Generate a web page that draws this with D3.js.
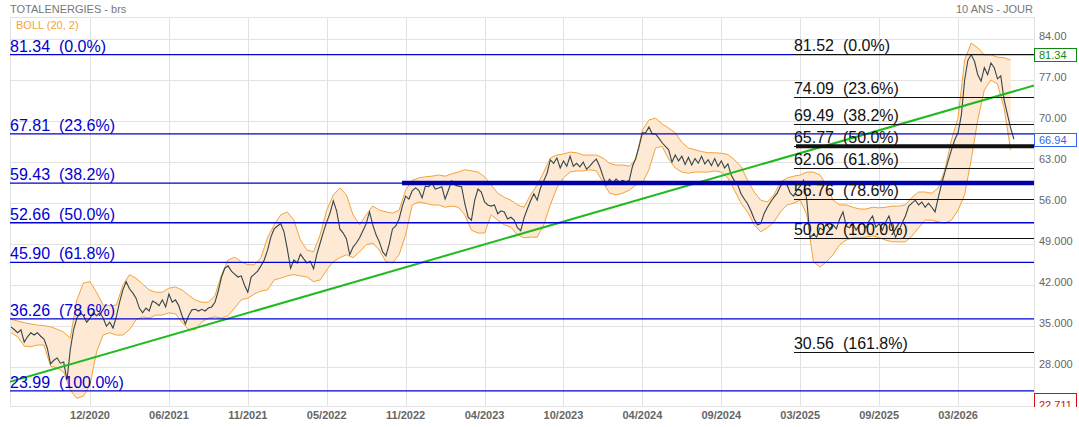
<!DOCTYPE html>
<html><head><meta charset="utf-8">
<script src="https://cdn.jsdelivr.net/npm/d3@7"></script>
<style>
html,body{margin:0;padding:0;background:#fff;}
svg{display:block;font-family:"Liberation Sans",Arial,sans-serif;}
</style></head><body>
<svg id="chart" width="1079" height="427"></svg>
<script>
// ---------- DATA ----------
const chartTitle = "TOTALENERGIES - brs";
const periodLabel = "10 ANS - JOUR";
const indicatorLabel = "BOLL (20, 2)";

// x tick labels and their sample index (one sample = half a band step)
const xTickLabels = ["12/2020","06/2021","11/2021","05/2022","11/2022","04/2023","10/2023","04/2024","09/2024","03/2025","09/2025","03/2026"];
const xTickIndex  = [24,48,72,96,120,144,168,192,216,240,264,288];

// y axis ticks
const yTickValues = [84,77,70,63,56,49,42,35,28];
const yTickLabels = ["84.00","77.00","70.00","63.00","56.00","49.000","42.000","35.000","28.000"];

// closing prices (sample index 0..305)
const priceClose = [
34.9,34.4,33.9,34.4,32.3,33.2,33.9,33.5,33.9,33.3,
32.8,31.3,28.6,29.2,29.6,28.7,28.9,25.8,31.0,34.4,
36.4,37.3,36.8,35.7,36.4,37.3,36.8,37.3,36.4,35.0,
35.7,34.7,36.6,39.1,41.2,42.6,41.4,40.7,39.8,38.1,
37.3,38.1,37.6,39.3,39.0,38.5,39.5,38.3,40.5,39.1,
39.5,38.5,36.8,35.4,36.8,37.8,37.9,37.6,37.9,37.6,
38.1,38.3,39.1,41.0,43.4,44.9,45.3,44.4,43.9,43.4,
43.6,42.0,40.8,43.4,43.9,44.4,45.3,46.3,48.0,50.2,
51.6,52.1,52.5,51.1,48.2,44.9,46.3,45.8,47.3,46.5,
45.8,46.1,44.8,47.3,49.2,51.1,52.8,54.3,56.4,54.7,
51.6,50.9,49.9,47.2,48.5,49.2,50.1,51.3,52.5,54.5,
52.3,50.6,49.4,47.7,47.0,49.0,51.6,52.1,53.3,55.5,
57.2,56.7,58.1,58.6,58.2,56.9,58.9,58.8,59.4,58.4,
58.6,58.8,56.7,58.2,59.8,59.1,58.9,58.8,55.9,53.6,
53.1,56.5,58.4,57.9,56.2,55.7,55.5,55.7,54.2,54.7,
54.5,53.3,53.6,53.1,51.8,51.3,53.5,55.0,56.4,57.6,
56.5,58.6,59.8,61.1,63.4,62.8,63.7,62.0,63.2,62.3,
64.0,62.3,62.8,62.2,63.0,61.8,62.3,63.0,63.5,62.3,
60.6,59.1,60.1,59.4,60.1,59.6,59.9,59.6,59.9,62.3,
63.7,65.7,68.0,68.0,69.0,67.8,67.8,67.1,66.3,65.7,
65.1,63.0,64.2,63.2,64.0,62.6,63.8,62.5,63.6,62.8,
64.0,62.7,63.4,62.4,63.6,62.3,63.2,62.0,62.7,60.8,
59.8,59.1,57.6,56.7,55.9,54.7,53.3,52.3,52.5,54.2,
55.3,56.2,57.0,57.7,58.9,59.4,59.1,57.7,57.2,58.2,
58.9,59.9,56.5,50.1,50.7,50.2,51.8,51.4,52.5,51.6,
52.3,51.6,53.3,54.5,52.1,51.8,52.5,51.4,52.3,52.6,
51.8,53.0,53.8,51.9,52.5,51.4,52.8,53.8,51.8,50.2,
51.4,52.6,53.8,55.5,56.0,56.5,55.7,56.2,55.3,56.0,
55.3,54.5,57.0,59.3,61.3,63.2,65.1,66.8,68.0,71.0,
77.0,80.4,81.3,80.2,77.9,76.8,79.1,77.9,79.9,79.1,
77.2,77.7,73.6,71.2,68.8,66.9];

// Bollinger upper / lower band (one value every 2 samples)
const bollUpper = [
36.2,35.9,35.6,35.4,35.2,35.1,34.9,34.5,34.0,33.0,
39.5,42.4,42.6,40.8,38.6,38.5,38.6,42.0,43.8,43.2,
42.2,41.2,40.8,40.8,41.5,41.7,41.2,40.3,39.5,39.1,
39.1,40.2,43.8,46.3,46.8,46.0,45.5,45.5,46.7,50.1,
52.3,54.0,54.5,53.1,49.7,48.0,47.7,50.6,54.8,57.4,
58.6,57.4,54.0,52.3,54.0,55.5,54.8,54.5,54.3,54.8,
58.2,59.9,60.3,60.5,60.6,60.8,60.6,61.0,61.3,61.7,
61.5,61.3,60.5,59.1,57.7,57.0,56.5,55.7,55.3,57.4,
59.1,61.3,63.7,64.2,64.4,64.7,64.6,64.2,64.2,64.2,
63.7,62.8,62.5,62.5,62.3,63.4,68.5,70.2,70.5,69.5,
68.8,68.0,66.4,65.4,65.1,64.8,64.6,64.6,64.5,64.3,
63.4,62.2,59.9,57.9,56.5,56.2,57.4,59.6,60.3,60.6,
60.8,61.3,61.3,60.8,59.1,56.5,55.7,55.7,55.3,55.0,
55.0,55.3,55.2,55.3,55.5,55.5,55.7,57.0,57.9,57.9,
57.7,58.6,61.7,66.8,70.5,80.4,83.3,82.5,81.3,81.3,
80.9,80.8,80.4];
const bollLower = [
33.9,33.2,31.6,31.5,31.8,31.8,28.2,27.9,27.2,24.1,
22.7,23.1,25.0,30.6,33.5,33.9,33.5,33.5,34.4,36.1,
36.6,36.4,36.9,36.9,37.3,37.1,35.7,34.4,34.4,35.7,
36.4,36.6,36.4,36.8,38.1,39.5,39.8,40.5,41.0,41.2,
42.9,43.2,43.6,43.8,43.6,43.4,42.6,42.9,44.6,46.0,
46.7,47.2,46.7,47.7,48.9,49.2,48.0,46.0,45.8,47.2,
50.6,55.7,56.2,56.0,55.7,55.7,55.3,55.5,55.3,54.0,
51.4,50.9,50.9,54.0,53.1,52.3,51.9,50.6,50.1,50.2,
50.2,52.3,55.7,58.6,60.3,61.3,61.5,61.5,61.7,61.5,
59.6,57.7,57.4,57.7,58.2,59.1,59.4,61.7,65.4,65.7,
63.5,62.0,61.3,61.1,61.3,61.3,61.3,61.5,61.3,60.3,
58.2,56.0,54.5,52.3,51.1,51.8,52.8,54.5,55.7,56.0,
56.5,54.0,46.0,45.1,46.0,47.2,48.9,49.7,50.1,50.1,
50.2,50.4,50.1,49.7,49.4,49.4,49.4,50.4,51.8,53.1,
53.1,52.8,52.6,53.1,54.8,57.4,63.4,70.2,75.3,77.0,
76.3,72.2,65.1];

// Fibonacci retracement (long-term, blue) and short-term (black)
const fibLongValues = [81.34,67.81,59.43,52.66,45.90,36.26,23.99];
const fibLongPct    = ["0.0%","23.6%","38.2%","50.0%","61.8%","78.6%","100.0%"];
const fibShortValues = [81.52,74.09,69.49,65.77,62.06,56.76,50.02,30.56];
const fibShortPct    = ["0.0%","23.6%","38.2%","50.0%","61.8%","78.6%","100.0%","161.8%"];
const fibShortStartIdx = 238.1;

// horizontal support lines drawn thick
const supportBlue  = {value: 59.43, startIdx: 118.9};
const supportBlack = {value: 65.77, startIdx: 238.7};

// trend line (index, value)
const trendIdx = [-0.33, 311.1];
const trendVal = [25.55, 76.07];

// value flags on the right axis
const flagTop = 81.34, flagLast = 66.94, flagLow = 22.711;

// ---------- DRAW ----------
const svg = d3.select("#chart");
const plot = {left:10, right:1034, top:17, bottom:406};
const x = d3.scaleLinear().domain([-0.33, 311.1]).range([plot.left, plot.right]);
const y = d3.scaleLinear().domain([21.4, 87.75]).range([plot.bottom, plot.top]);
const GRID = "#e2e2e2", BLUE = "#0000d0", ORANGE = "#f3a33a";

const defs = svg.append("defs");
defs.append("clipPath").attr("id","plotclip")
  .append("rect").attr("x",plot.left).attr("y",plot.top)
  .attr("width",plot.right-plot.left).attr("height",plot.bottom-plot.top);
defs.append("clipPath").attr("id","axisclip")
  .append("rect").attr("x",plot.right).attr("y",0).attr("width",45).attr("height",407);

// grid
const g = svg.append("g");
g.selectAll("line.hg").data(yTickValues).join("line").attr("class","hg")
  .attr("x1",plot.left).attr("x2",plot.right)
  .attr("y1",d=>Math.round(y(d))+0.5).attr("y2",d=>Math.round(y(d))+0.5)
  .attr("stroke",GRID);
g.append("line").attr("x1",plot.left).attr("x2",plot.right).attr("y1",plot.top+0.5).attr("y2",plot.top+0.5).attr("stroke",GRID);
g.append("line").attr("x1",plot.left).attr("x2",plot.right).attr("y1",plot.bottom+0.5).attr("y2",plot.bottom+0.5).attr("stroke",GRID);
g.selectAll("line.vg").data(xTickIndex).join("line").attr("class","vg")
  .attr("x1",d=>Math.round(x(d))+0.5).attr("x2",d=>Math.round(x(d))+0.5)
  .attr("y1",plot.top).attr("y2",plot.bottom).attr("stroke",GRID);
[plot.left, plot.right].forEach(px=>{
  g.append("line").attr("x1",px+0.5).attr("x2",px+0.5).attr("y1",plot.top).attr("y2",plot.bottom+1).attr("stroke",GRID);
});

const pg = svg.append("g").attr("clip-path","url(#plotclip)");

// bollinger
const bandData = bollUpper.map((u,i)=>({i:i*2,u:u,l:bollLower[i]}));
pg.append("path").datum(bandData)
  .attr("d", d3.area().x(d=>x(d.i)).y0(d=>y(d.l)).y1(d=>y(d.u)))
  .attr("fill","#fde9d4");
pg.append("path").datum(bandData)
  .attr("d", d3.line().x(d=>x(d.i)).y(d=>y(d.u)))
  .attr("fill","none").attr("stroke",ORANGE).attr("stroke-width",1);
pg.append("path").datum(bandData)
  .attr("d", d3.line().x(d=>x(d.i)).y(d=>y(d.l)))
  .attr("fill","none").attr("stroke",ORANGE).attr("stroke-width",1);

// price
pg.append("path").datum(priceClose)
  .attr("d", d3.line().x((d,i)=>x(i)).y(d=>y(d)))
  .attr("fill","none").attr("stroke","#34464a").attr("stroke-width",1.1);

// trend line
pg.append("line")
  .attr("x1",x(trendIdx[0])).attr("y1",y(trendVal[0]))
  .attr("x2",x(trendIdx[1])).attr("y2",y(trendVal[1]))
  .attr("stroke","#1fba1f").attr("stroke-width",2);

// long fib lines
pg.selectAll("line.fl").data(fibLongValues).join("line").attr("class","fl")
  .attr("x1",plot.left).attr("x2",plot.right)
  .attr("y1",d=>y(d)).attr("y2",d=>y(d))
  .attr("stroke",BLUE).attr("stroke-width",1.3);
// short fib lines
pg.selectAll("line.fs").data(fibShortValues).join("line").attr("class","fs")
  .attr("x1",x(fibShortStartIdx)).attr("x2",plot.right)
  .attr("y1",d=>Math.round(y(d))+0.5).attr("y2",d=>Math.round(y(d))+0.5)
  .attr("stroke","#111").attr("stroke-width",1);
// thick support lines
pg.append("line").attr("x1",x(supportBlue.startIdx)).attr("x2",plot.right)
  .attr("y1",y(supportBlue.value)).attr("y2",y(supportBlue.value))
  .attr("stroke","#0000a8").attr("stroke-width",4.5);
pg.append("line").attr("x1",x(supportBlack.startIdx)).attr("x2",plot.right)
  .attr("y1",y(supportBlack.value)+0.5).attr("y2",y(supportBlack.value)+0.5)
  .attr("stroke","#111").attr("stroke-width",4);

// fib labels
pg.selectAll("text.flt").data(fibLongValues).join("text").attr("class","flt")
  .attr("x",plot.left).attr("y",d=>y(d)-3)
  .attr("font-size",16).attr("fill",BLUE).style("white-space","pre")
  .text((d,i)=>d.toFixed(2)+"  ("+fibLongPct[i]+")");
pg.selectAll("text.fst").data(fibShortValues).join("text").attr("class","fst")
  .attr("x",x(fibShortStartIdx)).attr("y",d=>y(d)-3)
  .attr("font-size",16).attr("fill","#111").style("white-space","pre")
  .text((d,i)=>d.toFixed(2)+"  ("+fibShortPct[i]+")");

// titles
svg.append("text").attr("x",10).attr("y",13).attr("font-size",11).attr("fill","#777").text(chartTitle);
svg.append("text").attr("x",16).attr("y",29).attr("font-size",11).attr("fill",ORANGE).text(indicatorLabel);
svg.append("text").attr("x",1033).attr("y",13).attr("font-size",11).attr("fill","#777").attr("text-anchor","end").text(periodLabel);

// right axis
const ag = svg.append("g").attr("clip-path","url(#axisclip)");
ag.selectAll("text.yl").data(yTickValues).join("text").attr("class","yl")
  .attr("x",1039).attr("y",d=>y(d)+1).attr("font-size",11).attr("fill","#666")
  .text((d,i)=>yTickLabels[i]);
function flag(v, color, label){
  const cy = y(v);
  ag.append("rect").attr("x",1034.5).attr("y",Math.round(cy-6.5)+0.5).attr("width",42).attr("height",13)
    .attr("fill","#fff").attr("stroke",color).attr("stroke-width",1);
  ag.append("text").attr("x",1039).attr("y",Math.round(cy-6.5)+10.5).attr("font-size",11).attr("fill",color).text(label);
}
flag(flagTop, "#118811", flagTop.toFixed(2));
flag(flagLast, "#3366ee", flagLast.toFixed(2));
// low flag (partially hidden below the axis area)
(function(){
  const top = y(flagLow) - 5;
  ag.append("rect").attr("x",1034.5).attr("y",Math.round(top)+0.5).attr("width",42).attr("height",18)
    .attr("fill","#fff").attr("stroke","#cc1111");
  ag.append("text").attr("x",1039).attr("y",Math.round(top)+16).attr("font-size",11).attr("fill","#cc1111").text(String(flagLow));
})();

// x labels
svg.selectAll("text.xl").data(xTickIndex).join("text").attr("class","xl")
  .attr("x",d=>x(d)).attr("y",419).attr("text-anchor","middle")
  .attr("font-size",11).attr("font-weight","bold").attr("fill","#666")
  .text((d,i)=>xTickLabels[i]);
</script>
</body></html>
